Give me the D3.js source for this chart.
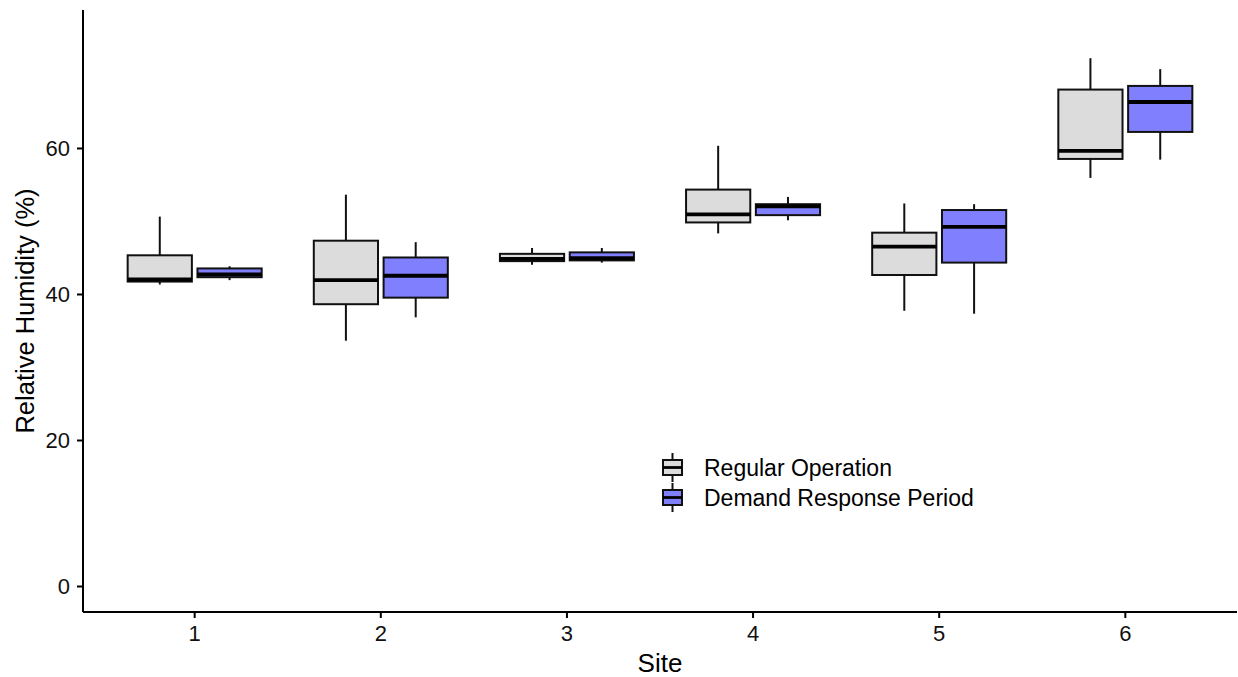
<!DOCTYPE html>
<html>
<head>
<meta charset="utf-8">
<script src="https://cdn.jsdelivr.net/npm/d3@7"></script>
<style>
  body { margin: 0; background: #fff; }
  text { font-family: "Liberation Sans", Arial, sans-serif; }
</style>
</head>
<body>
<svg id="chart" width="1238" height="677"></svg>
<script>
var sites = ["1", "2", "3", "4", "5", "6"];
var groups = ["Regular Operation", "Demand Response Period"];
var yTicks = [0, 20, 40, 60];

// five-number summaries
var regLow  = [41.3, 33.6, 44.0, 48.3, 37.7, 55.9];
var regQ1   = [41.7, 38.6, 44.5, 49.8, 42.6, 58.5];
var regMed  = [42.0, 41.9, 44.8, 50.9, 46.5, 59.6];
var regQ3   = [45.3, 47.3, 45.5, 54.3, 48.4, 68.0];
var regHigh = [50.6, 53.6, 46.3, 60.3, 52.4, 72.3];

var drLow  = [41.9, 36.8, 44.3, 50.1, 37.3, 58.4];
var drQ1   = [42.3, 39.5, 44.6, 50.8, 44.3, 62.2];
var drMed  = [42.7, 42.5, 44.9, 52.0, 49.2, 66.3];
var drQ3   = [43.5, 45.0, 45.7, 52.3, 51.5, 68.5];
var drHigh = [43.8, 47.1, 46.3, 53.3, 52.3, 70.8];

var fills = ["#dcdcdc", "#8080ff"];

var boxes = [];
sites.forEach(function (s, i) {
    boxes.push({site: s, group: groups[0], low: regLow[i], q1: regQ1[i], med: regMed[i], q3: regQ3[i], high: regHigh[i]});
    boxes.push({site: s, group: groups[1], low: drLow[i], q1: drQ1[i], med: drMed[i], q3: drQ3[i], high: drHigh[i]});
});

var svg = d3.select("#chart");
var pLeft = 83, pRight = 1237, pTop = 10, pBottom = 612;
var lineW = 2;

var x = d3.scaleBand().domain(sites).range([pLeft, pRight]).paddingInner(0).paddingOuter(0.1);
var step = x.step();
var dodge = d3.scalePoint().domain(groups).range([-0.1875 * step, 0.1875 * step]);
var boxW = 0.345 * step;
var y = d3.scaleLinear().domain([-3.56, 78.9]).range([pBottom, pTop]);
var color = d3.scaleOrdinal().domain(groups).range(fills);

function cx(d) { return x(d.site) + step / 2 + dodge(d.group); }

var g = svg.selectAll("g.box")
    .data(boxes)
    .enter()
    .append("g")
    .attr("class", "box");

// whiskers
g.append("line")
    .attr("x1", cx).attr("x2", cx)
    .attr("y1", function (d) { return y(d.high); })
    .attr("y2", function (d) { return y(d.q3); })
    .attr("stroke", "#111").attr("stroke-width", lineW);
g.append("line")
    .attr("x1", cx).attr("x2", cx)
    .attr("y1", function (d) { return y(d.q1); })
    .attr("y2", function (d) { return y(d.low); })
    .attr("stroke", "#111").attr("stroke-width", lineW);

g.append("rect")
    .attr("x", function (d) { return cx(d) - boxW / 2; })
    .attr("y", function (d) { return y(d.q3); })
    .attr("width", boxW)
    .attr("height", function (d) { return y(d.q1) - y(d.q3); })
    .attr("fill", function (d) { return color(d.group); })
    .attr("stroke", "#111")
    .attr("stroke-width", lineW);

g.append("line")
    .attr("x1", function (d) { return cx(d) - boxW / 2; })
    .attr("x2", function (d) { return cx(d) + boxW / 2; })
    .attr("y1", function (d) { return y(d.med); })
    .attr("y2", function (d) { return y(d.med); })
    .attr("stroke", "#000").attr("stroke-width", 3.8);

// axes
var yAxis = svg.append("g")
    .attr("transform", "translate(" + pLeft + ",0)")
    .call(d3.axisLeft(y).tickValues(yTicks).tickSize(6).tickSizeOuter(0).tickPadding(7));
var xAxis = svg.append("g")
    .attr("transform", "translate(0," + pBottom + ")")
    .call(d3.axisBottom(x).tickSize(6).tickSizeOuter(0).tickPadding(7));

[yAxis, xAxis].forEach(function (a) {
    a.attr("font-size", 22).attr("font-family", "'Liberation Sans', Arial, sans-serif");
    a.select(".domain").attr("stroke", "#000").attr("stroke-width", lineW);
    a.selectAll(".tick line").attr("stroke", "#000").attr("stroke-width", lineW);
    a.selectAll(".tick text").attr("fill", "#111");
});
xAxis.select(".domain").attr("d", "M" + pLeft + ",0H" + pRight);
yAxis.select(".domain").attr("d", "M0," + pTop + "V" + pBottom);

svg.append("text")
    .attr("x", (pLeft + pRight) / 2)
    .attr("y", 672)
    .attr("text-anchor", "middle")
    .style("font-size", "26px")
    .attr("fill", "#000")
    .text("Site");

svg.append("text")
    .attr("transform", "translate(25," + (pTop + pBottom) / 2 + ") rotate(-90)")
    .attr("text-anchor", "middle")
    .attr("dy", "0.35em")
    .style("font-size", "25.5px")
    .attr("fill", "#000")
    .text("Relative Humidity (%)");

// legend
var legend = svg.append("g").attr("transform", "translate(662,453)");
var rowH = 30;
var lg = legend.selectAll("g")
    .data(groups)
    .enter()
    .append("g")
    .attr("transform", function (d, i) { return "translate(0," + i * rowH + ")"; });
lg.append("line")
    .attr("x1", 10.5).attr("x2", 10.5).attr("y1", 0).attr("y2", 29)
    .attr("stroke", "#111").attr("stroke-width", lineW);
lg.append("rect")
    .attr("x", 1).attr("y", 7).attr("width", 19).attr("height", 15)
    .attr("fill", function (d) { return color(d); })
    .attr("stroke", "#111").attr("stroke-width", lineW);
lg.append("line")
    .attr("x1", 1).attr("x2", 20).attr("y1", 14.5).attr("y2", 14.5)
    .attr("stroke", "#000").attr("stroke-width", 2.8);
lg.append("text")
    .attr("x", 42)
    .attr("y", 15)
    .attr("dy", "0.35em")
    .style("font-size", "23px")
    .attr("fill", "#000")
    .text(function (d) { return d; });
</script>
</body>
</html>
